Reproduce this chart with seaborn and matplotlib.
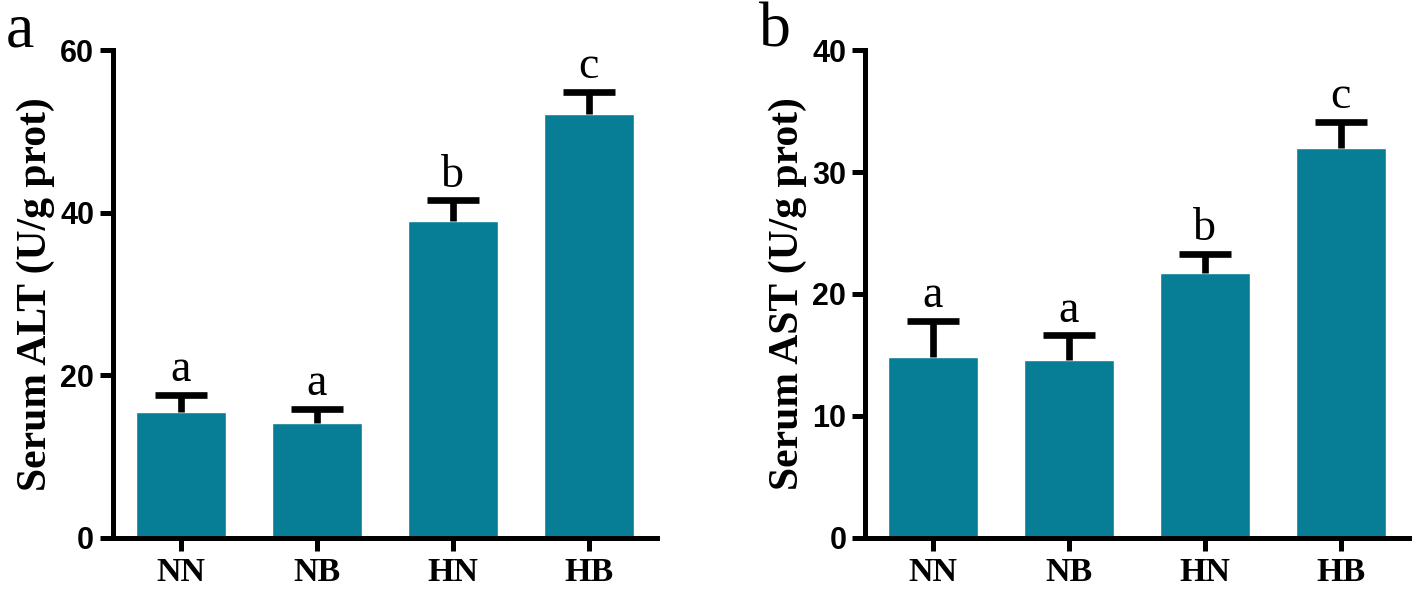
import numpy as np
import pandas as pd
import seaborn as sns
import matplotlib.pyplot as plt

sns.set_style("ticks", {"text.color": "black", "axes.labelcolor": "black",
                        "xtick.color": "black", "ytick.color": "black",
                        "axes.edgecolor": "black"})

groups = ["NN", "NB", "HN", "HB"]
alt_mean = [15.5, 14.1, 39.0, 52.1]
alt_err = [2.1, 1.8, 2.5, 2.7]
alt_sig = ["a", "a", "b", "c"]
ast_mean = [14.8, 14.6, 21.7, 32.0]
ast_err = [3.0, 2.0, 1.6, 2.1]
ast_sig = ["a", "a", "b", "c"]

bar_color = "#087d96"
sans = "Liberation Sans"
serif = "Liberation Serif"

fig = plt.figure(figsize=(14.16, 5.89), dpi=100)
ax1 = fig.add_axes([0.0798, 0.0866, 0.384, 0.8285])
ax2 = fig.add_axes([0.6109, 0.0866, 0.384, 0.8285])


def panel(ax, means, errs, sig, ylabel, ymax, step):
    df = pd.DataFrame({"group": groups, "value": means})
    sns.barplot(data=df, x="group", y="value", color=bar_color,
                width=0.66, saturation=1, ax=ax)
    pos = np.arange(len(groups))
    eb = ax.errorbar(pos, means, yerr=[np.zeros(len(errs)), errs], fmt="none",
                     ecolor="black", elinewidth=4.8, capsize=18.5,
                     capthick=4.8, zorder=3)
    eb[1][0].set_visible(False)
    for p, m, e, s in zip(pos, means, errs, sig):
        ax.text(p, m + e + ymax * 0.008, s, ha="center", va="bottom",
                fontsize=33, family=serif, color="black")
    ax.set_xlim(-0.5, 3.5)
    ax.set_ylim(0, ymax)
    ax.set_yticks(np.arange(0, ymax + 1, step))
    ax.set_xlabel("")
    ax.set_ylabel(ylabel, fontsize=30, family=serif, fontweight="bold",
                  labelpad=4, color="black")
    for lbl in ax.get_yticklabels():
        lbl.set_family(sans)
        lbl.set_fontweight("bold")
        lbl.set_fontsize(22)
    for lbl in ax.get_xticklabels():
        lbl.set_family(serif)
        lbl.set_fontweight("bold")
        lbl.set_fontsize(24.5)
    ax.tick_params(axis="both", length=9.5, width=3.6, direction="out",
                   color="black", labelcolor="black", pad=4)
    sns.despine(ax=ax)
    for sp in ["left", "bottom"]:
        ax.spines[sp].set_linewidth(3.6)
        ax.spines[sp].set_color("black")


panel(ax1, alt_mean, alt_err, alt_sig, "Serum ALT (U/g prot)", 60, 20)
panel(ax2, ast_mean, ast_err, ast_sig, "Serum AST (U/g prot)", 40, 10)

fig.text(0.004, 0.995, "a", fontsize=46, family=serif, va="top", color="black")
fig.text(0.536, 0.995, "b", fontsize=46, family=serif, va="top", color="black")

fig.savefig("out.png", dpi=100)
